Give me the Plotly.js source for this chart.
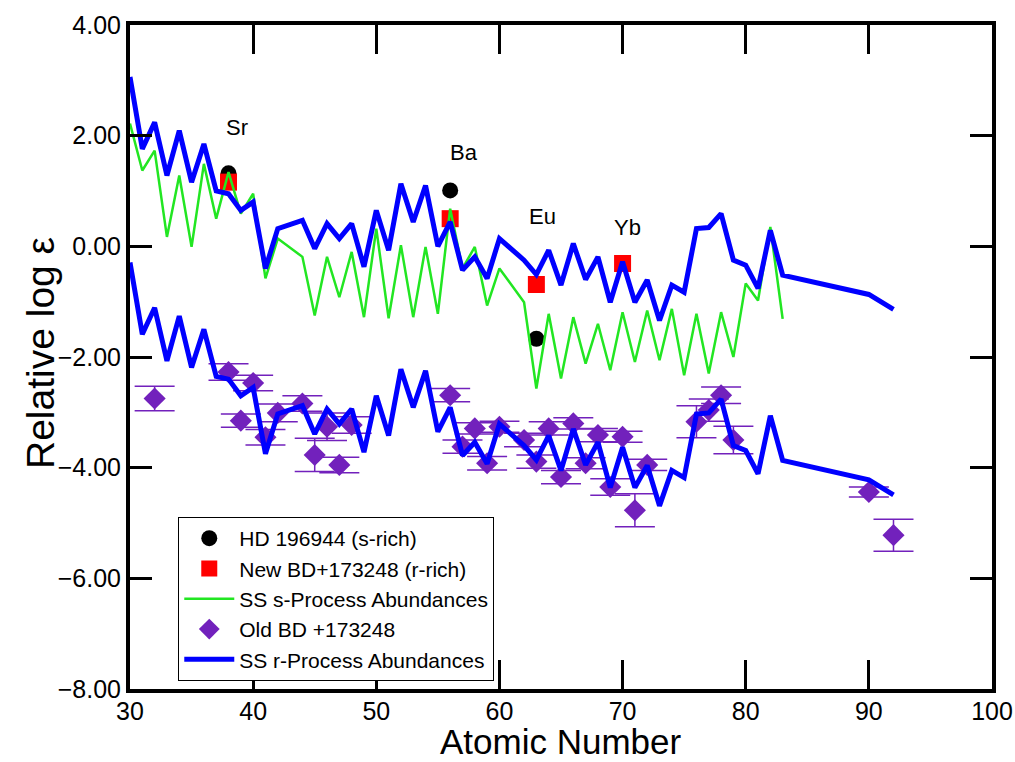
<!DOCTYPE html>
<html>
<head>
<meta charset="utf-8">
<script src="https://cdn.plot.ly/plotly-3.0.1.min.js"></script>
<style>html,body{margin:0;padding:0;background:#fff}#chart{width:1015px;height:762px}</style>
</head>
<body>
<div id="chart"></div>
<script>
// SS r-process abundances (upper curve)
const rZ = [30,31,32,33,34,35,36,37,38,39,40,41,42,44,45,46,47,48,49,50,51,52,53,54,55,56,57,58,59,60,62,63,64,65,66,67,68,69,70,71,72,73,74,75,76,77,78,79,80,81,82,83,90,92];
const rUpper = [3.06,1.76,2.24,1.28,2.09,1.16,1.85,1.00,0.95,0.65,0.80,-0.40,0.32,0.47,-0.04,0.41,0.14,0.41,-0.37,0.65,-0.07,1.13,0.44,1.10,0.00,0.44,-0.43,-0.19,-0.58,0.14,-0.25,-0.51,-0.07,-0.70,0.05,-0.60,-0.19,-1.01,-0.28,-1.01,-0.61,-1.34,-0.70,-0.83,0.32,0.34,0.59,-0.25,-0.34,-0.76,0.29,-0.52,-0.87,-1.14];
// SS r-process abundances (lower curve, scaled to Old BD +173248)
const rLower = [-0.29,-1.59,-1.11,-2.07,-1.26,-2.19,-1.50,-2.35,-2.40,-2.70,-2.55,-3.75,-3.03,-2.88,-3.39,-2.94,-3.21,-2.94,-3.72,-2.70,-3.42,-2.22,-2.91,-2.25,-3.35,-2.91,-3.78,-3.54,-3.93,-3.21,-3.60,-3.86,-3.42,-4.05,-3.30,-3.95,-3.54,-4.36,-3.63,-4.36,-3.96,-4.69,-4.05,-4.18,-3.03,-3.01,-2.76,-3.60,-3.69,-4.11,-3.06,-3.87,-4.22,-4.49];
// SS s-process abundances
const sZ = [30,31,32,33,34,35,36,37,38,39,40,41,42,44,45,46,47,48,49,50,51,52,53,54,55,56,57,58,59,60,62,63,64,65,66,67,68,69,70,71,72,73,74,75,76,77,78,79,80,81,82,83];
const sVals = [2.22,1.37,1.73,0.17,1.28,-0.01,1.49,0.50,1.34,0.59,0.95,-0.58,0.14,-0.19,-1.25,-0.19,-0.92,-0.10,-1.28,0.32,-1.30,0.02,-1.28,-0.01,-1.22,0.68,-0.40,-0.01,-1.07,-0.40,-1.01,-2.57,-1.22,-2.39,-1.28,-2.12,-1.40,-2.24,-1.19,-2.09,-1.16,-2.06,-1.13,-2.33,-1.22,-2.30,-1.19,-2.00,-0.67,-0.98,0.35,-1.31];
// HD 196944 (s-rich)
const hdZ = [38,56,63];
const hdVals = [1.32,1.01,-1.67];
// New BD+173248 (r-rich)
const newZ = [38,56,63,70];
const newVals = [1.16,0.50,-0.69,-0.31];
// Old BD +173248
const oldZ = [32,38,39,40,41,42,44,45,46,47,48,56,57,58,59,60,62,63,64,65,66,67,68,69,70,71,72,76,77,78,79,90,92];
const oldVals = [-2.75,-2.27,-3.15,-2.47,-3.45,-3.01,-2.84,-3.77,-3.26,-3.95,-3.23,-2.69,-3.62,-3.29,-3.92,-3.26,-3.50,-3.89,-3.29,-4.17,-3.20,-3.92,-3.41,-4.35,-3.44,-4.77,-3.95,-3.17,-2.96,-2.69,-3.50,-4.44,-5.22];
const oldErr = [0.22,0.15,0.12,0.14,0.14,0.16,0.14,0.30,0.25,0.14,0.15,0.12,0.12,0.10,0.12,0.10,0.12,0.12,0.12,0.12,0.10,0.10,0.12,0.15,0.10,0.30,0.10,0.29,0.20,0.15,0.25,0.09,0.29];
// Element labels
const labelText = ['Sr','Ba','Eu','Yb'];
const labelZ = [38.7,57.1,63.5,70.4];
const labelY = [2.15,1.70,0.54,0.34];
// Axis settings
const xRange = [30, 100];
const yRange = [-8, 4];
const xTitle = 'Atomic Number';
const yTitle = 'Relative log ε';

const FONT = '"Liberation Sans", Arial, Helvetica, sans-serif';
const INDIGO = '#7221bc';

const traces = [
  {x: hdZ, y: hdVals, name: 'HD 196944 (s-rich)', mode: 'markers', type: 'scatter',
   marker: {symbol: 'circle', size: 16, color: '#000000'}, legendrank: 1},
  {x: newZ, y: newVals, name: 'New BD+173248 (r-rich)', mode: 'markers', type: 'scatter',
   marker: {symbol: 'square', size: 17, color: '#ff0000'}, legendrank: 2},
  {x: oldZ, y: oldVals, name: 'Old BD +173248', mode: 'markers', type: 'scatter',
   marker: {symbol: 'diamond', size: 17, color: INDIGO},
   error_y: {type: 'data', array: oldErr, visible: true, color: INDIGO, thickness: 1.5, width: 20},
   legendrank: 4},
  {x: sZ, y: sVals, name: 'SS s-Process Abundances', mode: 'lines', type: 'scatter',
   line: {color: '#22e622', width: 2.5}, legendrank: 3},
  {x: rZ, y: rLower, name: 'SS r-Process (scaled)', mode: 'lines', type: 'scatter',
   line: {color: '#0000ff', width: 5}, showlegend: false},
  {x: rZ, y: rUpper, name: 'SS r-Process Abundances', mode: 'lines', type: 'scatter',
   line: {color: '#0000ff', width: 5}, legendrank: 5}
];

const annotations = labelText.map((t, i) => ({
  x: labelZ[i], y: labelY[i], xref: 'x', yref: 'y', text: t, showarrow: false,
  font: {family: FONT, size: 22, color: '#000'}
}));
annotations.push({
  text: xTitle, xref: 'paper', yref: 'paper', x: 0.5, y: 0, xanchor: 'center', yanchor: 'middle',
  yshift: -52, showarrow: false, font: {family: FONT, size: 35, color: '#000'}
});
annotations.push({
  text: yTitle, xref: 'paper', yref: 'paper', x: 0, y: 0.5, xanchor: 'center', yanchor: 'middle',
  xshift: -90, yshift: 4, textangle: -90, showarrow: false, font: {family: FONT, size: 39, color: '#000'}
});

function baseAxis() {
  return {
    showgrid: false, zeroline: false, showline: true, linecolor: '#000', linewidth: 4,
    mirror: 'ticks', ticks: 'inside', tickcolor: '#000',
    tickfont: {family: FONT, size: 25, color: '#000'}
  };
}

const layout = {
  width: 1015, height: 762,
  margin: {l: 130, r: 23, t: 25, b: 73, pad: 0},
  paper_bgcolor: '#fff', plot_bgcolor: '#fff',
  font: {family: FONT, color: '#000'},
  showlegend: true,
  legend: {x: 0.056, y: 0.259, xanchor: 'left', yanchor: 'top',
    bgcolor: '#fff', bordercolor: '#000', borderwidth: 1,
    font: {family: FONT, size: 21, color: '#000'}, tracegroupgap: 0, itemwidth: 50},
  xaxis: Object.assign(baseAxis(), {
    range: xRange, dtick: 10, tick0: 30, ticklen: 29, tickwidth: 3, ticklabelstandoff: -3
  }),
  yaxis: Object.assign(baseAxis(), {
    range: yRange, dtick: 2, tick0: 0, ticklen: 22, tickwidth: 2.5, tickformat: '.2f'
  }),
  annotations: annotations
};

Plotly.newPlot('chart', traces, layout, {displayModeBar: false});
</script>
</body>
</html>
